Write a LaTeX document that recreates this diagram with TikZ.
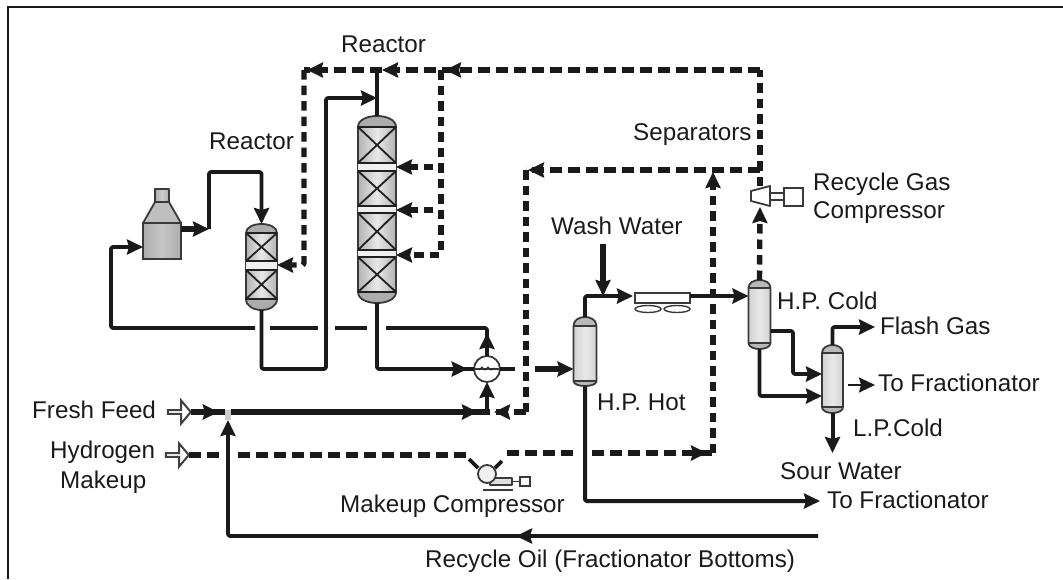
\documentclass[tikz,border=0pt]{standalone}
\usepackage{fontspec}
\setmainfont{Liberation Sans}
\usetikzlibrary{arrows.meta,calc,decorations.markings,shapes.arrows}
\definecolor{ink}{HTML}{1A1A1A}
\newcommand{\vessel}[9]{%
  \pgfmathsetmacro\vL{#2-#5}\pgfmathsetmacro\vR{#2+#5}%
  \pgfmathsetmacro\vA{#6-(#6-#3)/0.75}\pgfmathsetmacro\vB{#7+(#4-#7)/0.75}%
  \pgfmathsetmacro\vM{(#3+#4)/2}%
  \node[vesselbox,minimum width={2*#5pt},minimum height={(#4-#3)*1pt}] (#1) at (#2,\vM) {};
  \shade[left color=#9,right color=#9,middle color=gray!18] (\vL,#6) rectangle (\vR,#7);
  \fill[#8] (\vL,#6) .. controls (\vL,\vA) and (\vR,\vA) .. (\vR,#6) -- cycle;
  \fill[#8] (\vL,#7) .. controls (\vL,\vB) and (\vR,\vB) .. (\vR,#7) -- cycle;
  \draw[vesselline] (\vL,#6) .. controls (\vL,\vA) and (\vR,\vA) .. (\vR,#6) -- (\vR,#7) .. controls (\vR,\vB) and (\vL,\vB) .. (\vL,#7) -- cycle;
  \draw[vesselline] (\vL,#6) -- (\vR,#6) (\vL,#7) -- (\vR,#7);
}
\newcommand{\bed}[4]{%
  \pgfmathsetmacro\vL{#1-#2}\pgfmathsetmacro\vR{#1+#2}%
  \draw[bedline] (\vL,#3) -- (\vR,#3) (\vL,#4) -- (\vR,#4) (\vL,#3) -- (\vR,#4) (\vR,#3) -- (\vL,#4);
}
\tikzset{
  x=1pt,y=-1pt,
  flowtip/.tip={Stealth[length=16pt,width=15pt,inset=2pt]},
  base/.style={draw=ink,line join=round,rounded corners=1.5pt},
  pipe/.style={base,line width=3.6pt},
  fatpipe/.style={base,line width=6pt},
  hdash/.style={base,line width=6pt,dash pattern=on 12pt off 6pt},
  vdash/.style={base,line width=5.4pt,dash pattern=on 9.5pt off 6pt},
  tipat/.style={postaction={decorate,decoration={markings,mark=at position #1 with {\arrow{flowtip}}}}},
  lbl/.style={anchor=base west,inner sep=0pt,text=ink,font=\fontsize{24.2}{26}\selectfont},
  vesselbox/.style={inner sep=0pt,outer sep=0pt},
  vesselline/.style={draw=gray!45!black,line width=1.8pt,line join=round},
  bedline/.style={draw=gray!25!black,line width=1.8pt},
  equip/.style={draw=gray!45!black,line width=1.8pt,fill=white,inner sep=0pt,outer sep=0pt},
  feedarrow/.style={single arrow,draw=gray!50!black,line width=2pt,fill=white,minimum height=23pt,minimum width=23pt,single arrow head extend=5pt,single arrow tip angle=100,inner sep=0pt,outer sep=0pt},
}
\begin{document}
\begin{tikzpicture}
\useasboundingbox (0,0) rectangle (1063,579);
% frame
\draw[ink,line width=2.5pt] (8,579) -- (8,7) -- (1063,7);

% equipment
\node[vesselbox,draw=gray!45!black,line width=1.8pt,left color=gray!65,right color=gray!65,middle color=gray!45,minimum width=38pt,minimum height=36pt] (fur) at (162,241) {};
\draw[vesselline,left color=gray!65,right color=gray!65,middle color=gray!40] (155,202) rectangle (169,189);
\draw[vesselline,fill=gray!50] (143,223) -- (155,202) -- (169,202) -- (181,223) -- cycle;

\vessel{rone}{261.5}{224}{310}{15.5}{233}{299}{gray!65}{gray!60}
\fill[gray!12] (246,261) rectangle (277,270);
\bed{261.5}{15.5}{233}{261}
\bed{261.5}{15.5}{270}{299}

\vessel{rtwo}{377}{116}{303}{19}{127}{292}{gray!65}{gray!60}
\fill[gray!12] (358,163) rectangle (396,171);
\fill[gray!12] (358,206) rectangle (396,213);
\fill[gray!12] (358,250) rectangle (396,257);
\bed{377}{19}{127}{163}
\bed{377}{19}{171}{206}
\bed{377}{19}{213}{250}
\bed{377}{19}{257}{292}

\vessel{hot}{585}{317}{386}{11.5}{326}{381}{gray!55}{gray!35}
\vessel{cold}{759.5}{280}{349}{11}{288}{343}{gray!55}{gray!35}
\vessel{lpc}{832.5}{345}{413}{10.5}{353}{407}{gray!55}{gray!35}

% named points
\coordinate (lpa) at (487,328); \coordinate (lpb) at (386,328);
\coordinate (lpc1) at (367,328); \coordinate (lpd) at (335,328);
\coordinate (lpe) at (318,328); \coordinate (lpf) at (270,328);
\coordinate (lpg) at (255,328); \coordinate (lph) at (111,328);
\coordinate (lpi) at (111,247);
\coordinate (fo) at (209,229); \coordinate (fp) at (209,172); \coordinate (fq) at (261.5,172);
\coordinate (rtop) at (760,70); \coordinate (rsplit) at (760,170);
\coordinate (ra) at (304,70); \coordinate (rb) at (304,265);
\coordinate (rc) at (377,70); \coordinate (rd) at (441,70); \coordinate (re) at (441,255);
\coordinate (qa) at (433,167); \coordinate (qb) at (433,210);
\coordinate (qc) at (526,170); \coordinate (qd) at (526,412);
\coordinate (ja) at (377,369); \coordinate (jb) at (261.5,369); \coordinate (jc) at (326,369);
\coordinate (jd) at (326,98); \coordinate (je) at (377,98);
\coordinate (ga) at (515,369); \coordinate (gb) at (535,369);
\coordinate (ka) at (225,412); \coordinate (kb) at (231,412); \coordinate (kc) at (487,412);
\coordinate (ha) at (220,455); \coordinate (hb) at (238,455); \coordinate (hc) at (466,455);
\coordinate (hd) at (469,459); \coordinate (he) at (478,468);
\coordinate (hf) at (495,468); \coordinate (hg) at (502,461);
\coordinate (hh) at (507,453); \coordinate (hi) at (578,453);
\coordinate (hj) at (592,453); \coordinate (hk) at (713,453); \coordinate (hl) at (713,172);
\coordinate (oa) at (818,536); \coordinate (ob) at (228,536); \coordinate (oc) at (228,420);
\coordinate (wa) at (603,244); \coordinate (wb) at (603,296); \coordinate (wc) at (585,296);
\coordinate (ta) at (585,501); \coordinate (tb) at (820,501);
\coordinate (ca) at (793,331); \coordinate (cb) at (793,374); \coordinate (cc) at (759.5,396);
\coordinate (la) at (832.5,327); \coordinate (lb) at (875,327);
\coordinate (lc) at (848,385); \coordinate (ld) at (875,385); \coordinate (le) at (832.5,453);
\coordinate (rgin) at (760,207); \coordinate (rgout) at (760,186);

% dashed hydrogen network
\draw[vdash] (rsplit) -- (rtop);
\draw[hdash,tipat=315pt,tipat=378pt,tipat=453pt] (rtop) -- (ra);
\draw[vdash,-flowtip] (ra) -- (rb) -- (rone.east |- rb);
\draw[vdash,-flowtip] (rd) -- (re) -- (rtwo.east |- re);
\draw[vdash,-flowtip] (qa) -- (rtwo.east |- qa);
\draw[vdash,-flowtip] (qb) -- (rtwo.east |- qb);
\draw[hdash,tipat=232pt] (rsplit) -- (qc);
\draw[vdash] (qc) -- (qd);
\draw[hdash,tipat=32pt] (qd) -- (kc);
\draw[vdash] (rgout) -- (rsplit);
\draw[vdash,-flowtip] (cold.north) -- (rgin);
\draw[vdash,-flowtip] (hk) -- (hl);

% recycle gas compressor
\node[equip,minimum width=19pt,minimum height=18pt] (rgbox) at (793.5,197) {};
\draw[vesselline] (770,193) -- (rgbox.west |- 770,193) (770,200) -- (rgbox.west |- 770,200);
\draw[vesselline,fill=white] (751,191) -- (770,186) -- (770,206) -- (751,201) -- cycle;

% loop from exchanger to furnace
\node[circle,equip,minimum size=26pt] (hx) at (487,369) {};
\draw[pipe,tipat=23pt] (hx.north) -- (lpa) -- (lpb);
\draw[pipe] (lpc1) -- (lpd);
\draw[pipe] (lpe) -- (lpf);
\draw[pipe,-flowtip] (lpg) -- (lph) -- (lpi) -- (fur.west |- lpi);
\draw[fatpipe,-flowtip] (fur.east |- fo) -- (fo);
\draw[pipe,-flowtip] (fo) -- (fp) -- (fq) -- (rone.north);

% reactor lines
\draw[pipe] (rc) -- (rtwo.north);
\draw[pipe,-flowtip] (rone.south) -- (jb) -- (jc) -- (jd) -- (je);
\draw[pipe,tipat=156pt] (rtwo.south) -- (ja) -- (hx.west);

% exchanger
\draw[pipe] (hx.east) -- (ga);
\draw[vesselline] (hx.west) -- (hx.east);
\draw[draw=gray!30!black,line width=1pt] ($(hx.center)+(-8,1)$) -- ($(hx.center)+(-5,-2)$) -- ($(hx.center)+(-2,1)$) -- ($(hx.center)+(1,-2)$) -- ($(hx.center)+(4,1)$) -- ($(hx.center)+(8,-1)$);
\draw[fatpipe,-flowtip] (gb) -- (hot.west |- gb);

% fresh feed
\node[feedarrow] (ffa) at (178.5,412) {};
\draw[fatpipe,tipat=28pt] (ffa.east) -- (ka);
\draw[fatpipe,tipat=247pt] (kb) -- (kc);
\fill[gray!40] (ka) ++(0,-2.5) rectangle (231,420);
\draw[pipe,-flowtip] (kc) -- (hx.south);

% hydrogen makeup
\node[feedarrow] (hma) at (176.5,455) {};
\draw[hdash] (hma.east) -- (ha);
\draw[hdash] (hb) -- (hc);
\draw[pipe] (hd) -- (he);
\draw[pipe] (hf) -- (hg);
\draw[hdash] (hh) -- (hi);
\draw[hdash,tipat=115pt] (hj) -- (hk);

% makeup compressor
\draw[vesselline,fill=gray!25] (490,478) rectangle (512,485);
\draw[vesselline] (512,481.5) -- (520,481.5);
\node[equip,minimum width=10pt,minimum height=9pt] (mcbox) at (525,481.5) {};
\draw[vesselline] (483,490) -- (513,490);
\node[circle,equip,fill=gray!12,minimum size=18pt] (mc) at (487,474) {};

% recycle oil
\draw[pipe,tipat=302pt,-flowtip] (oa) -- (ob) -- (oc);

% separators section
\draw[pipe,-flowtip] (hot.north) -- (wc) -- ($(wc)+(48,0)$);
\draw[fatpipe,-flowtip] (wa) -- (wb);
\node[equip,minimum width=55pt,minimum height=10pt] (air) at (662.5,298) {};
\draw[draw=gray!45!black,line width=1.4pt] (648,309) ellipse (13 and 3.5) (677,309) ellipse (13 and 3.5);
\draw[pipe,-flowtip] (air.east |- wb) -- (cold.west |- wb);
\draw[pipe,-flowtip] (cold.east |- ca) -- (ca) -- (cb) -- (lpc.west |- cb);
\draw[pipe,-flowtip] (cold.south) -- (cc) -- (lpc.west |- cc);
\draw[pipe,-flowtip] (lpc.north) -- (la) -- (lb);
\draw[line width=1.8pt,draw=ink,-flowtip] (lc) -- (ld);
\draw[pipe,line width=4pt,-flowtip] (lpc.south) -- (le);
\draw[pipe,line width=4pt,-flowtip] (hot.south) -- (ta) -- (tb);

% labels
\node[lbl] (t1) at (341,52) {Reactor};
\node[lbl] (t2) at (209,149) {Reactor};
\node[lbl] (t3) at (633,140) {Separators};
\node[lbl] (t4) at (813,190) {Recycle Gas};
\node[lbl] (t5) at (813,218) {Compressor};
\node[lbl] (t6) at (551,234) {Wash Water};
\node[lbl] (t7) at (777,309) {H.P. Cold};
\node[lbl] (t8) at (880,334) {Flash Gas};
\node[lbl] (t9) at (878,391) {To Fractionator};
\node[lbl] (t10) at (853,436) {L.P.Cold};
\node[lbl] (t11) at (597,410) {H.P. Hot};
\node[lbl] (t12) at (780,479) {Sour Water};
\node[lbl] (t13) at (827,508) {To Fractionator};
\node[lbl] (t14) at (425,567) {Recycle Oil (Fractionator Bottoms)};
\node[lbl] (t15) at (32,418) {Fresh Feed};
\node[lbl] (t16) at (50,458) {Hydrogen};
\node[lbl] (t17) at (60,488) {Makeup};
\node[lbl] (t18) at (340,512) {Makeup Compressor};
\end{tikzpicture}
\end{document}
